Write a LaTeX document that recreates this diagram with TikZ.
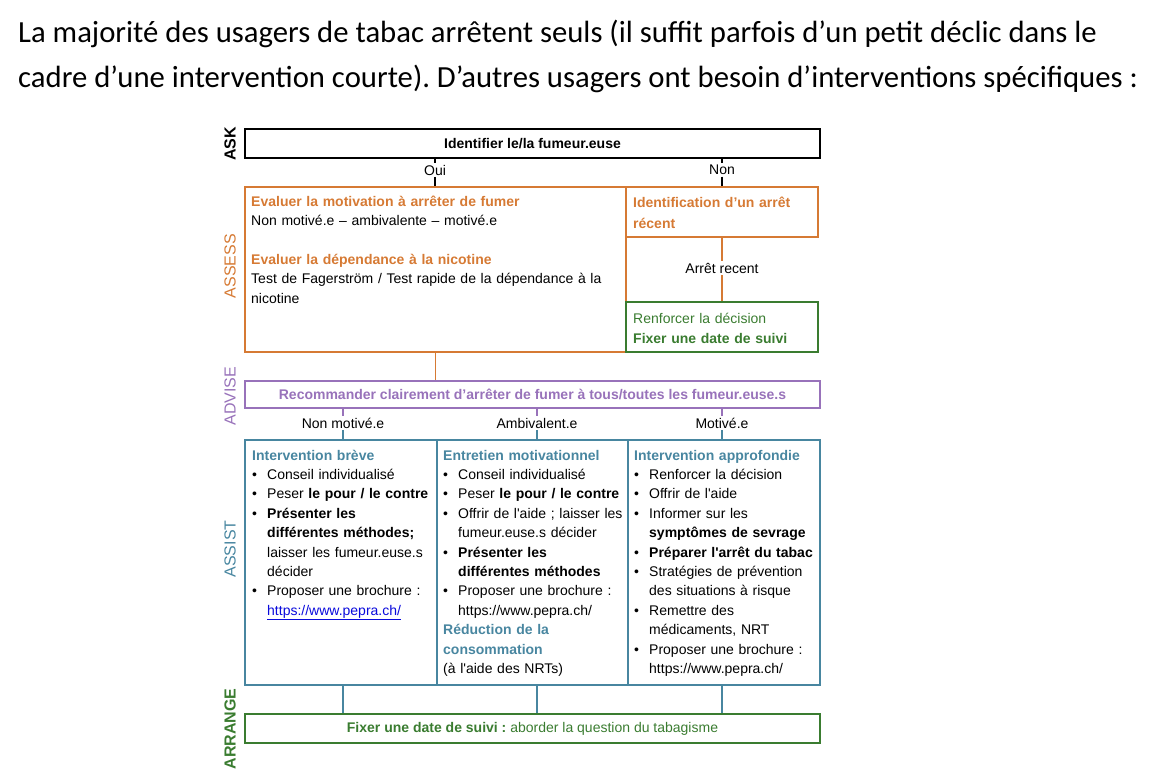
\documentclass[tikz,border=0pt]{standalone}
\usepackage{fontspec}
\setmainfont{Liberation Sans}[Ligatures=TeXOff]
\newfontfamily\introfont{Carlito}
\frenchspacing
\definecolor{assessorange}{RGB}{214,122,52}
\definecolor{advisepurple}{RGB}{152,114,186}
\definecolor{assistblue}{RGB}{72,134,160}
\definecolor{arrangegreen}{RGB}{58,124,48}
\definecolor{linkblue}{RGB}{10,10,220}
\tikzstyle{box} = [rectangle, draw, line width=1.8pt, inner sep=0pt,
    minimum height=29pt, font=\fontsize{14}{16}\selectfont]
\tikzstyle{txt} = [align=left, text width=200pt, inner sep=0pt,
    font=\fontsize{14}{19.4}\selectfont]
\tikzstyle{lbl} = [inner sep=1.5pt, font=\fontsize{14}{16}\selectfont]
\tikzstyle{phase} = [rotate=90, inner sep=0pt, font=\fontsize{16}{16}\selectfont]
\tikzstyle{intro} = [inner sep=0pt, font=\introfont\fontsize{30.7}{36}\selectfont]
\tikzstyle{line} = [draw, line width=1.3pt]
\newcommand{\bul}{\makebox[15pt][l]{\textbullet}}
\newcommand{\ind}{\hspace*{15pt}}
\begin{document}
\begin{tikzpicture}[x=1pt, y=-1pt, node distance=100pt]
  \useasboundingbox (0,0) rectangle (1151,776);
  % intro text
  \node [intro, anchor=base west] (intro1) at (18,43) {La majorité des usagers de tabac arrêtent seuls (il suffit parfois d’un petit déclic dans le};
  \node [intro, anchor=base west] (intro2) at (18,88) {cadre d’une intervention courte). D’autres usagers ont besoin d’interventions spécifiques :};
  % phase names
  \node [phase, font=\fontsize{16}{16}\selectfont\bfseries] (askname) at (230,144) {ASK};
  \node [phase, text=assessorange] (assessname) at (230,266) {ASSESS};
  \node [phase, text=advisepurple] (advisename) at (230,396) {ADVISE};
  \node [phase, text=assistblue] (assistname) at (230,549) {ASSIST};
  \node [phase, font=\fontsize{16}{16}\selectfont\bfseries, text=arrangegreen] (arrangename) at (230,729) {ARRANGE};
  % boxes
  \node [box, minimum width=575pt, font=\fontsize{14}{16}\selectfont\bfseries] (ask) at (532.5,143.5) {Identifier le/la fumeur.euse};
  \node [box, draw=assessorange, minimum width=381pt, minimum height=165pt] (assess) at (435.5,269.5) {};
  \node [box, draw=assessorange, minimum width=192pt, minimum height=50pt] (recent) at (722,212) {};
  \node [box, draw=arrangegreen, minimum width=192pt, minimum height=50pt, below of=recent, node distance=115pt] (decision) {};
  \node [box, draw=advisepurple, text=advisepurple, minimum width=575pt, minimum height=27pt, below of=ask, node distance=251pt,
    font=\fontsize{14}{16}\selectfont\bfseries] (advise) {Recommander clairement d’arrêter de fumer à tous/toutes les fumeur.euse.s};
  \node [box, draw=assistblue, minimum width=192pt, minimum height=245pt, below of=advise, node distance=168pt] (motiv) {};
  \node [box, draw=assistblue, minimum width=192pt, minimum height=245pt, left of=motiv, node distance=191.5pt] (brief) {};
  \node [box, draw=assistblue, minimum width=192pt, minimum height=245pt, right of=motiv, node distance=191.5pt] (deep) {};
  \node [box, draw=arrangegreen, text=arrangegreen, minimum width=575pt, below of=advise, node distance=334pt] (arrange)
    {\textbf{Fixer une date de suivi :} aborder la question du tabagisme};
  % labels on connectors
  \node [lbl] (oui) at (435,170) {Oui};
  \node [lbl] (non) at (722,170) {Non};
  \node [lbl, below of=recent, node distance=56pt] (arret) {Arrêt recent};
  \node [lbl] (lnon) at (343,423) {Non motivé.e};
  \node [lbl] (lamb) at (537,423) {Ambivalent.e};
  \node [lbl] (lmot) at (722,423) {Motivé.e};
  % box texts
  \node [txt, anchor=base west, text width=380pt] (assesstxt) at (251,206)
    {\textbf{\color{assessorange}Evaluer la motivation à arrêter de fumer}\\
     Non motivé.e – ambivalente – motivé.e\\[19.5pt]
     \textbf{\color{assessorange}Evaluer la dépendance à la nicotine}\\
     Test de Fagerström / Test rapide de la dépendance à la\\
     nicotine};
  \node [txt, anchor=base west, text=assessorange, font=\fontsize{14}{21}\selectfont\bfseries] (recenttxt) at (633,207)
    {Identification d’un arrêt\\récent};
  \node [txt, anchor=base west, text=arrangegreen, font=\fontsize{14}{20}\selectfont] (decisiontxt) at (633,323)
    {Renforcer la décision\\\textbf{Fixer une date de suivi}};
  \node [txt, anchor=base west] (brieftxt) at (252,460)
    {{\color{assistblue}\textbf{Intervention brève}}\\
     \bul Conseil individualisé\\
     \bul Peser \textbf{le pour / le contre}\\
     \bul \textbf{Présenter les}\\
     \ind\textbf{différentes méthodes;}\\
     \ind laisser les fumeur.euse.s\\
     \ind décider\\
     \bul Proposer une brochure :\\
     \ind{\color{linkblue}\underline{https://www.pepra.ch/}}};
  \node [txt, anchor=base west] (motivtxt) at (443,460)
    {{\color{assistblue}\textbf{Entretien motivationnel}}\\
     \bul Conseil individualisé\\
     \bul Peser \textbf{le pour / le contre}\\
     \bul Offrir de l'aide ; laisser les\\
     \ind fumeur.euse.s décider\\
     \bul \textbf{Présenter les}\\
     \ind\textbf{différentes méthodes}\\
     \bul Proposer une brochure :\\
     \ind https://www.pepra.ch/\\
     {\color{assistblue}\textbf{Réduction de la}}\\
     {\color{assistblue}\textbf{consommation}}\\
     (à l'aide des NRTs)};
  \node [txt, anchor=base west] (deeptxt) at (634,460)
    {{\color{assistblue}\textbf{Intervention approfondie}}\\
     \bul Renforcer la décision\\
     \bul Offrir de l'aide\\
     \bul Informer sur les\\
     \ind\textbf{symptômes de sevrage}\\
     \bul \textbf{Préparer l'arrêt du tabac}\\
     \bul Stratégies de prévention\\
     \ind des situations à risque\\
     \bul Remettre des\\
     \ind médicaments, NRT\\
     \bul Proposer une brochure :\\
     \ind https://www.pepra.ch/};
  % connectors
  \path [line] (ask.south -| oui) -- (oui);
  \path [line] (oui) -- (oui |- assess.north);
  \path [line] (ask.south -| non) -- (non);
  \path [line] (non) -- (non |- recent.north);
  \path [line, draw=assessorange] (recent) -- (arret);
  \path [line, draw=assessorange] (arret) -- (decision);
  \path [line, draw=assessorange] (assess.south) -- (assess.south |- advise.north);
  \path [line, draw=advisepurple] (advise.south -| lnon) -- (lnon);
  \path [line, draw=assistblue] (lnon) -- (lnon |- brief.north);
  \path [line, draw=advisepurple] (advise.south -| lamb) -- (lamb);
  \path [line, draw=assistblue] (lamb) -- (lamb |- motiv.north);
  \path [line, draw=advisepurple] (advise.south -| lmot) -- (lmot);
  \path [line, draw=assistblue] (lmot) -- (lmot |- deep.north);
  \path [line, draw=assistblue] (brief.south -| lnon) -- (arrange.north -| lnon);
  \path [line, draw=assistblue] (motiv.south -| lamb) -- (arrange.north -| lamb);
  \path [line, draw=assistblue] (deep.south -| lmot) -- (arrange.north -| lmot);
\end{tikzpicture}
\end{document}
